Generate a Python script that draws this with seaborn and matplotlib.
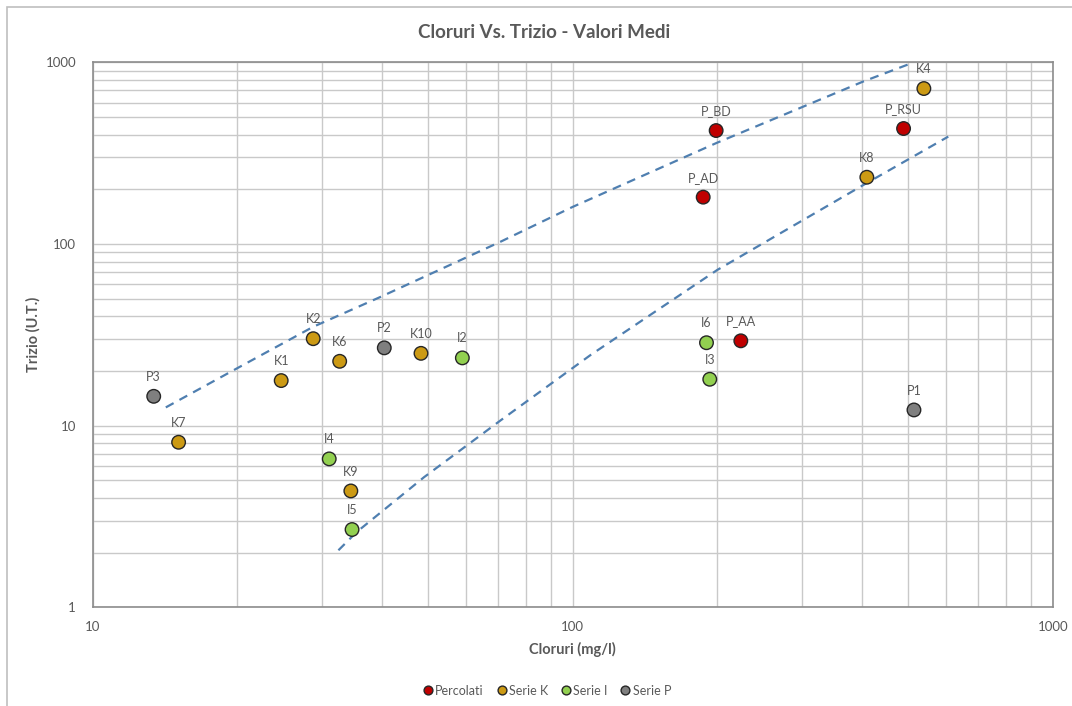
import pandas as pd
import matplotlib.pyplot as plt
from matplotlib.patches import Rectangle
from matplotlib.ticker import NullFormatter
import seaborn as sns

# Data
labels = ["P_BD", "P_AD", "P_RSU", "P_AA",
          "K1", "K2", "K4", "K6", "K7", "K8", "K9", "K10",
          "I2", "I3", "I4", "I5", "I6",
          "P1", "P2", "P3"]
series = ["Percolati"] * 4 + ["Serie K"] * 8 + ["Serie I"] * 5 + ["Serie P"] * 3
cloruri = [199, 187, 489, 224,
           24.7, 28.8, 539, 32.7, 15.1, 410, 34.5, 48.3,
           58.9, 193, 31.1, 34.7, 190,
           514, 40.5, 13.4]
trizio = [421, 181, 432, 29.3,
          17.7, 30.1, 717, 22.6, 8.1, 233, 4.37, 25.0,
          23.6, 18.0, 6.56, 2.68, 28.6,
          12.2, 26.8, 14.5]

# dashed envelope curves
upper_x = [14.2, 20, 28.8, 39.7, 70.8, 100, 199, 403, 504]
upper_y = [12.6, 20.7, 35, 51, 103, 160, 359, 784, 981]
lower_x = [32.5, 35.5, 49, 70.8, 109, 200, 403, 606]
lower_y = [2.06, 2.6, 5.2, 10.7, 24.5, 71.9, 211, 390]

palette = {"Percolati": "#C00000", "Serie K": "#CC9A14",
           "Serie I": "#92D050", "Serie P": "#7F7F7F"}

df = pd.DataFrame({"label": labels, "serie": series, "x": cloruri, "y": trizio})

sns.set_style("white")
plt.rcParams['font.family'] = ['Lato', 'DejaVu Sans']
text_col = "#595959"
grid_col = "#C9C9C9"

fig = plt.figure(figsize=(10.72, 7.06), dpi=100)
ax = fig.add_axes([92.7 / 1072, 1 - 607.3 / 706, 960 / 1072, 545 / 706])

# outer chart-area frame (cut off at right and bottom)
fig.patches.append(Rectangle((7 / 1072, -0.1), 1.2, 1 - 7 / 706 + 0.1,
                             transform=fig.transFigure, fill=False,
                             edgecolor="#BFBFBF", lw=1.2))

ax.set_xscale("log")
ax.set_yscale("log")
ax.set_xlim(10, 1000)
ax.set_ylim(1, 1000)
ax.grid(True, which="both", color=grid_col, lw=1)
ax.set_axisbelow(True)

for xs, ys in [(upper_x, upper_y), (lower_x, lower_y)]:
    sns.lineplot(x=xs, y=ys, ax=ax, sort=False, estimator=None,
                 color="#4F7FB0", lw=1.6, linestyle=(0, (4, 3)))

sns.scatterplot(data=df, x="x", y="y", hue="serie", palette=palette,
                hue_order=list(palette), s=95, edgecolor="#262626",
                linewidth=1.0, ax=ax, zorder=3)

for lab, xv, yv in zip(labels, cloruri, trizio):
    ax.annotate(lab, (xv, yv), xytext=(0, 14), textcoords="offset points",
                ha="center", va="center", fontsize=9, color=text_col)

for sp in ax.spines.values():
    sp.set_color("#8C8C8C")
    sp.set_linewidth(1.2)

ax.set_xticks([10, 100, 1000])
ax.set_xticklabels(["10", "100", "1000"])
ax.set_yticks([1, 10, 100, 1000])
ax.set_yticklabels(["1", "10", "100", "1000"])
ax.xaxis.set_minor_formatter(NullFormatter())
ax.yaxis.set_minor_formatter(NullFormatter())
ax.tick_params(which="both", length=0, colors=text_col, labelsize=9.5)
ax.tick_params(axis="x", pad=10)
ax.tick_params(axis="y", pad=12)
ax.set_xlabel("")
ax.set_ylabel("")

fig.text(572.7 / 1072, 1 - 649 / 706, "Cloruri (mg/l)", ha="center",
         va="center", fontsize=10.5, fontweight="bold", color=text_col)
fig.text(33 / 1072, 1 - 334 / 706, "Trizio (U.T.)", ha="center",
         va="center", rotation=90, fontsize=10.5, fontweight="bold",
         color=text_col)
fig.text(544 / 1072, 1 - 32 / 706, "Cloruri Vs. Trizio - Valori Medi",
         ha="center", va="center", fontsize=13.5, fontweight="bold",
         color=text_col)

sns.move_legend(ax, "center", bbox_to_anchor=(547 / 1072, 1 - 690.7 / 706),
                bbox_transform=fig.transFigure, ncol=4, frameon=False,
                title=None, fontsize=9, handletextpad=0.2, handlelength=0.8,
                columnspacing=1.0, markerscale=0.65)
for t in ax.get_legend().get_texts():
    t.set_color(text_col)

fig.savefig("out.png", dpi=100)
